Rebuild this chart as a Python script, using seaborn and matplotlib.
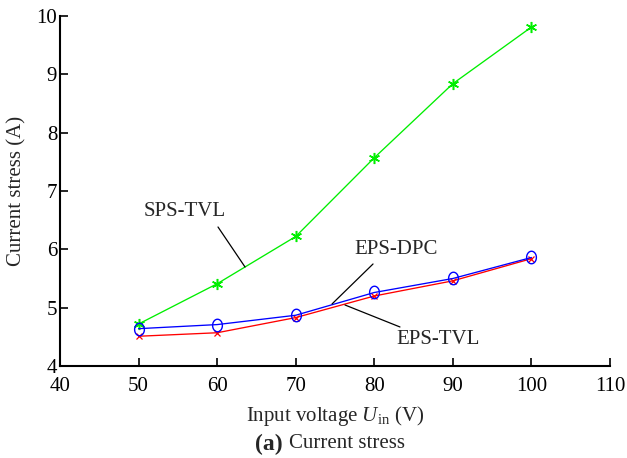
import matplotlib
matplotlib.use("Agg")
import matplotlib.pyplot as plt
from matplotlib.path import Path
import numpy as np
import seaborn as sns
import pandas as pd

voltage = [50, 60, 70, 80, 90, 100]
sps_tvl = [4.72, 5.41, 6.22, 7.57, 8.84, 9.81]
eps_dpc = [4.64, 4.71, 4.87, 5.26, 5.50, 5.86]
eps_tvl = [4.51, 4.57, 4.83, 5.20, 5.46, 5.84]
x_ticks = [40, 50, 60, 70, 80, 90, 100, 110]
y_ticks = [4, 5, 6, 7, 8, 9, 10]

sns.set_theme(style="ticks")
plt.rcParams["font.family"] = ["Liberation Serif", "DejaVu Serif"]
plt.rcParams["mathtext.fontset"] = "custom"
plt.rcParams["mathtext.it"] = "Liberation Serif:italic"
plt.rcParams["mathtext.rm"] = "Liberation Serif"

fig = plt.figure(figsize=(6.27, 4.58), dpi=100)
ax = fig.add_axes([60/627, 1 - 366/458, 550/627, 350/458])

# tall ellipse marker
t = np.linspace(0, 2 * np.pi, 60)
ellipse = Path(np.column_stack([0.78 * np.cos(t), np.sin(t)]), closed=True)

df = pd.DataFrame({"V": voltage, "SPS": sps_tvl, "DPC": eps_dpc, "TVL": eps_tvl})
sns.lineplot(data=df, x="V", y="SPS", ax=ax, color="#00ee00", lw=0.95,
             marker=(6, 2, 0), markersize=8, markeredgecolor="#00ee00", markeredgewidth=1.1)
sns.lineplot(data=df, x="V", y="TVL", ax=ax, color="#ff0000", lw=0.95,
             marker="x", markersize=5, markeredgecolor="#ff0000", markeredgewidth=0.9)
sns.lineplot(data=df, x="V", y="DPC", ax=ax, color="#0000ff", lw=0.95,
             marker=ellipse, markersize=9, markerfacecolor="none", markeredgecolor="#0000ff",
             markeredgewidth=1.0)

ax.set_xlim(40, 110)
ax.set_ylim(4, 10)
ax.set_xticks(x_ticks)
ax.set_yticks(y_ticks)
ax.tick_params(direction="in", length=6, width=1.2, labelsize=15, colors="black")
ax.tick_params(axis="x", pad=8)
ax.tick_params(axis="y", pad=2)
for s in ["top", "right"]:
    ax.spines[s].set_visible(False)
for s in ["left", "bottom"]:
    ax.spines[s].set_linewidth(1.5)
    ax.spines[s].set_color("black")

ax.set_xlabel(r"Input voltage $U_{\mathrm{in}}$ (V)", fontsize=15, labelpad=6)
ax.set_ylabel("Current stress (A)", fontsize=15, labelpad=7)

lead = dict(arrowstyle="-", color="black", lw=0.9, shrinkA=0, shrinkB=0)
ax.text(55.87, 6.645, "SPS-TVL", fontsize=15, ha="center", va="center")
ax.annotate("", xy=(63.55, 5.697), xytext=(60.11, 6.383), arrowprops=lead)
ax.text(82.76, 6.0, "EPS-DPC", fontsize=15, ha="center", va="center")
ax.annotate("", xy=(74.62, 5.063), xytext=(79.84, 5.749), arrowprops=lead)
ax.text(88.11, 4.446, "EPS-TVL", fontsize=15, ha="center", va="center")
ax.annotate("", xy=(76.27, 5.046), xytext=(83.27, 4.669), arrowprops=lead)

fig.text(255/627, 1 - 444/458, "(a)", fontsize=17, fontweight="bold", ha="left", va="center")
fig.text(289/627, 1 - 444/458, "Current stress", fontsize=15, ha="left", va="center")

fig.savefig("out.png", dpi=100)
